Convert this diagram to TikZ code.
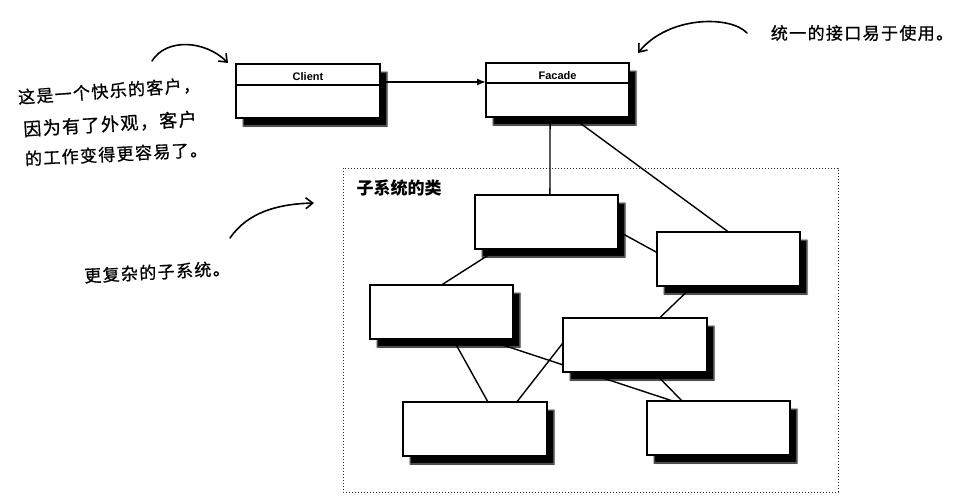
\documentclass[tikz,border=0pt]{standalone}
\usepackage{fontspec}
\setmainfont{Liberation Sans}
\newfontfamily\cjk{Noto Sans CJK SC}
\newfontfamily\cjkwide{Noto Sans CJK SC}[LetterSpace=8,FakeBold=0.8]
\usetikzlibrary{arrows.meta,calc,shadows.blur}
\pgfdeclarelayer{background}
\pgfsetlayers{background,main}
\begin{document}
\begin{tikzpicture}[x=1pt,y=-1pt,
 umlbox/.style={draw, fill=white, line width=1.2pt, inner sep=0pt, outer sep=0pt,
   minimum width=143pt, minimum height=54pt, anchor=north west,
   blur shadow={shadow xshift=7pt, shadow yshift=-8pt, shadow blur radius=1.3pt, shadow opacity=100}},
 link/.style={line width=1.4pt},
 hand/.style={line width=1.6pt, line cap=round, -{Straight Barb[length=7pt,width=11pt,line width=1.6pt]}},
 note/.style={font=\cjkwide\fontsize{17}{20}\selectfont, inner sep=0pt},
 classname/.style={font=\bfseries\fontsize{11}{13}\selectfont, inner sep=0pt},
 frame/.style={dotted, line width=1pt, black!85}]
\useasboundingbox (0,0) rectangle (964,498);

% top classes
\node[umlbox, minimum width=144pt] (cl) at (236,64) {};
\node[umlbox] (fa) at (486,63) {};
\draw[line width=1.1pt] ([yshift=-21pt]cl.north west) -- ([yshift=-21pt]cl.north east);
\draw[line width=1.1pt] ([yshift=-20pt]fa.north west) -- ([yshift=-20pt]fa.north east);
\node[classname] (cllabel) at ([yshift=-13pt]cl.north) {Client};
\node[classname] (falabel) at ([yshift=-13pt]fa.north) {Facade};

% subsystem classes
\node[umlbox] (A) at (475,195) {};
\node[umlbox] (B) at (657,232) {};
\node[umlbox] (C) at (370,285) {};
\node[umlbox, minimum width=144pt] (D) at (563,318) {};
\node[umlbox, minimum width=144pt] (E) at (403,402) {};
\node[umlbox] (F) at (647,401) {};

% frame and title
\coordinate (frNW) at (343,168);
\coordinate (frSE) at (838,492);
\node[font=\cjk\bfseries\fontsize{17}{20}\selectfont, inner sep=0pt] (sublabel) at (399,188) {子系统的类};

\begin{pgfonlayer}{background}
\draw[frame] (frNW) rectangle (frSE);
\draw[link] ($(fa.south west)!0.448!(fa.south east)$) -- ($(A.north west)!0.524!(A.north east)$);
\draw[link] ($(fa.south west)!0.60!(fa.south east)$) -- (B.north);
\draw[link] ($(A.north east)!0.67!(A.south east)$) -- ($(B.north west)!0.38!(B.south west)$);
\draw[link] ($(A.south west)!0.16!(A.south east)$) -- (C.north);
\draw[link] ($(B.south west)!0.25!(B.south east)$) -- ($(D.north west)!0.67!(D.north east)$);
\draw[link] ($(C.south west)!0.58!(C.south east)$) -- ($(E.north west)!0.59!(E.north east)$);
\draw[link] ($(C.south west)!0.80!(C.south east)$) -- ($(F.north west)!0.18!(F.north east)$);
\draw[link] ($(D.north west)!0.46!(D.south west)$) -- ($(E.north west)!0.79!(E.north east)$);
\draw[link] ($(D.south west)!0.63!(D.south east)$) -- ($(F.north west)!0.245!(F.north east)$);
\end{pgfonlayer}

% association
\draw[link, -{Latex[length=9pt,width=7pt]}] ([yshift=-18pt]cl.north east) -- ([yshift=-19pt]fa.north west);

% handwritten notes
\node[note, rotate=4] (n1) at (109,91) {这是一个快乐的客户，};
\node[note, font=\cjkwide\fontsize{18}{20}\selectfont, rotate=3.5] (n2) at (110,124) {因为有了外观，客户};
\node[note, rotate=3] (n3) at (116,154) {的工作变得更容易了。};
\node[note] (n4) at (862,33) {统一的接口易于使用。};
\node[note, rotate=3] (n5) at (157,272) {更复杂的子系统。};

\coordinate (a1s) at (152,61);
\coordinate (a1e) at (228,63);
\coordinate (a2s) at (747,33);
\coordinate (a2e) at (638,53);
\coordinate (a3s) at (230,238);
\coordinate (a3e) at (314,203);
\draw[hand] (a1s) .. controls (166,38) and (205,40) .. (a1e);
\draw[hand] (a2s) .. controls (730,15) and (668,16) .. (a2e);
\draw[hand] (a3s) .. controls (248,212) and (278,204) .. (a3e);
\end{tikzpicture}
\end{document}
